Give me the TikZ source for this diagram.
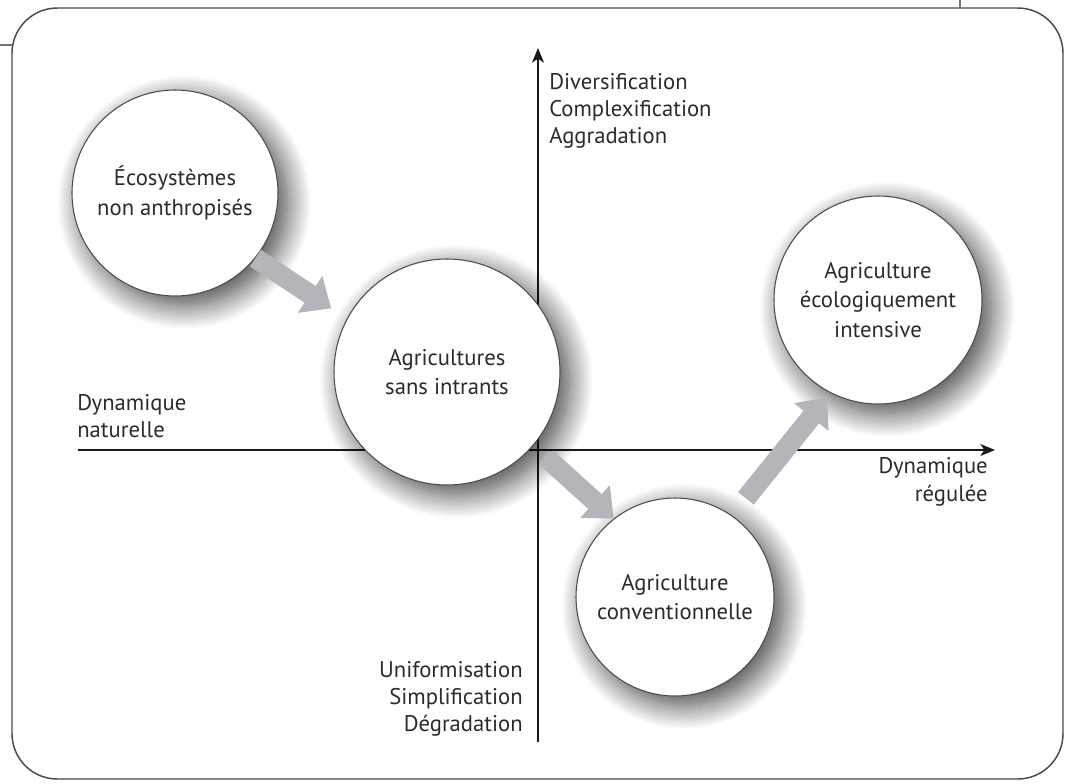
\documentclass[tikz,border=0pt]{standalone}
\usepackage{fontspec}
\setmainfont{PT Sans}
\usetikzlibrary{arrows.meta,shadows.blur,calc}
\definecolor{txt}{HTML}{2A2A30}
\definecolor{arrowgray}{HTML}{B3B5BA}
\definecolor{framec}{HTML}{4A4A4A}
\begin{document}
\begin{tikzpicture}[x=0.75pt,y=-0.75pt,
  bubble/.style={circle, draw=black!70, line width=0.8pt, fill=white, align=center,
    font=\fontsize{17}{22}\selectfont, text=txt, inner sep=0pt,
    blur shadow={shadow xshift=7pt, shadow yshift=-7pt, shadow blur radius=18pt,
      shadow blur steps=24, shadow opacity=75}},
  axisline/.style={line width=1.1pt, draw=black!90, -{Stealth[length=11pt,width=9pt,inset=3pt]}},
  flow/.style={line width=15pt, draw=arrowgray, -{Triangle[length=19pt,width=32pt]}},
  lbl/.style={font=\fontsize{17}{20.5}\selectfont, text=txt, inner sep=0pt}]
\useasboundingbox (0,0) rectangle (1068,783);
% frame
\draw[framec, line width=1.1pt, rounded corners=34pt] (12,8) rectangle (1063,779);
\draw[black!55, line width=1pt] (0,45) -- (12,45);
\draw[black!55, line width=1pt] (960,0) -- (960,8);
% axes
\coordinate (O) at (538,450);
\coordinate (xl) at (78,450);
\coordinate (xr) at (995,450);
\coordinate (yb) at (538,742);
\coordinate (yt) at (538,48);
\draw[axisline] (xl) -- (xr);
\draw[axisline] (yb) -- (yt);
% circles
\node[bubble, minimum size=154.5pt] (c1) at (175,193) {Écosystèmes\\non anthropisés};
\node[bubble, minimum size=169.5pt] (c2) at (447,372) {Agricultures\\sans intrants};
\node[bubble, minimum size=156pt] (c3) at (878,300) {Agriculture\\écologiquement\\intensive};
\node[bubble, minimum size=148.5pt] (c4) at (675,597) {Agriculture\\conventionnelle};
% labels
\node[lbl, anchor=west, align=left] (lup) at (549,111) {Diversification\\Complexification\\Aggradation};
\node[lbl, anchor=west, align=left] (lleft) at (77,416) {Dynamique\\naturelle};
\node[lbl, anchor=east, align=right] (lright) at (988,482) {Dynamique\\régulée};
\node[lbl, anchor=east, align=right] (ldown) at (523,699) {Uniformisation\\Simplification\\Dégradation};
% flows
\draw[flow, shorten >=14pt] (c1.-39) -- (c2.152);
\draw[flow, shorten <=9pt] (O) -- (c4.128);
\draw[flow, shorten <=16.5pt, shorten >=4pt] (c4.55) -- (c3.243);
\end{tikzpicture}
\end{document}
